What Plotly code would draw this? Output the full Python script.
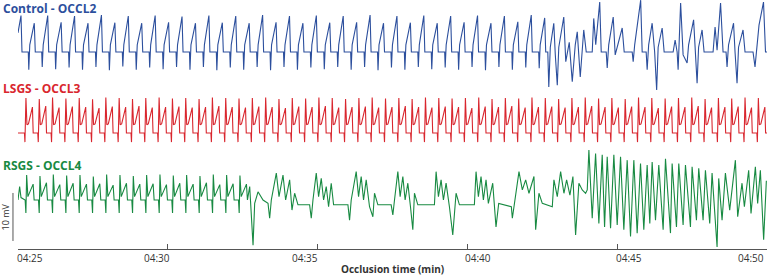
import plotly.graph_objects as go

# ---------------- data (time = seconds after 04:25:00, values in mV) ----------------
tick_vals = [0, 300, 600, 900, 1200, 1500]
tick_text = ["04:25", "04:30", "04:35", "04:40", "04:45", "04:50"]
trace_names = ["Control - OCCL2", "LSGS - OCCL3", "RSGS - OCCL4"]
x_title = "Occlusion time (min)"
scale_label = "10 mV"
scale_mv = 10

# Control - OCCL2 : regular beats (onset, trough, peak)
ctrl_lead_t = [0, 6, 8]
ctrl_lead_v = [4.0, 7.6, 0]
ctrl_onset = [20.6, 47.5, 74.4, 101.3, 128.2, 155.1, 182.0, 208.9, 235.8, 262.7,
              289.6, 316.5, 343.4, 370.3, 397.2, 424.1, 451.0, 477.9, 504.8, 531.7,
              558.6, 585.5, 612.4, 639.3, 666.2, 693.1, 720.0, 746.9, 773.8, 800.7,
              827.6, 854.5, 881.4, 908.3, 935.2, 962.1, 989.0, 1015.9, 1042.8]
ctrl_trough = [-3.7, -3.1, -3.6, -3.2, -3.7, -3.1, -3.8, -3.0, -3.7, -3.2,
               -3.6, -3.1, -3.7, -3.1, -3.8, -3.2, -3.7, -3.1, -3.8, -3.1,
               -3.7, -3.2, -3.6, -3.1, -3.7, -3.1, -3.8, -3.2, -3.7, -3.1,
               -3.6, -3.2, -3.7, -3.1, -3.8, -3.1, -3.7, -3.2, -3.4]
ctrl_peak = [6.0, 7.6, 6.2, 7.5, 6.0, 7.7, 6.1, 7.5, 6.0, 7.6,
             6.2, 7.4, 6.0, 7.6, 6.1, 7.5, 6.0, 7.7, 6.2, 7.5,
             6.0, 7.6, 6.1, 7.5, 6.2, 7.7, 6.0, 7.5, 6.1, 7.6,
             6.0, 7.5, 6.2, 7.6, 6.0, 7.5, 6.3, 7.7, 7.1]
# Control - OCCL2 : irregular part
ctrl_irr_t = [1061, 1063, 1066, 1073, 1076, 1080, 1083, 1093, 1097, 1104,
              1110, 1116, 1120, 1126, 1133, 1138, 1150, 1153, 1157, 1165,
              1168, 1178, 1180, 1183, 1192, 1196, 1210, 1214, 1230, 1232,
              1235, 1247, 1250, 1258, 1260, 1263, 1270, 1275, 1279, 1282,
              1290, 1294, 1312, 1316, 1320, 1322, 1327, 1332, 1340, 1343,
              1353, 1356, 1360, 1363, 1370, 1374, 1392, 1396, 1400, 1407,
              1412, 1418, 1420, 1423, 1433, 1436, 1440, 1443, 1452, 1456,
              1472, 1476, 1480, 1484, 1493, 1497, 1500]
ctrl_irr_v = [0, -7.3, 1.0, 6.0, -0.5, -6.9, 1.0, 7.3, -2.0, 2.0,
              -6.2, 1.5, 4.2, -5.2, 4.6, 0, 0, 7.0, 1.5, 10.4,
              0, 0, -3.3, 1.5, 7.3, -0.6, 5.0, 0, 0, -2.0,
              1.5, 10.8, 0, 0, -3.7, 1.5, 6.0, 0, -7.9, 1.0,
              5.0, 0, 0, 2.5, 0, -3.7, 10.2, -0.6, -2.3, 1.5,
              6.7, 0, -6.5, 1.0, 4.6, 0, 0, 5.2, 0.4, 10.2,
              0, 0, -3.1, 1.5, 6.0, 0, -6.5, 1.0, 4.6, 0,
              0, -3.1, 1.5, 5.6, 10.4, 0, 0]

# LSGS - OCCL3 : beats (time of main spike, main spike, second peak)
lsgs_time = [15.9, 42.6, 69.2, 95.9, 122.6, 149.3, 175.9, 202.6, 229.3, 255.9,
             282.6, 309.3, 335.9, 362.6, 389.3, 416.0, 442.6, 469.3, 496.0, 522.6,
             549.3, 576.0, 602.6, 629.3, 656.0, 682.7, 709.3, 736.0, 762.7, 789.3,
             816.0, 842.7, 869.3, 896.0, 922.7, 949.3, 976.0, 1002.7, 1029.3, 1056.0,
             1082.7, 1109.3, 1136.0, 1162.7, 1189.3, 1216.0, 1242.7, 1269.3, 1296.0, 1322.7,
             1349.3, 1376.0, 1402.7, 1429.3, 1456.0, 1482.7]
lsgs_spike = [7.3, 7.1, 7.4, 7.2, 7.3, 7.0, 7.4, 7.3, 7.1, 7.3,
              7.4, 7.2, 7.3, 7.1, 7.4, 7.3, 7.2, 7.3, 7.4, 7.1,
              7.3, 7.2, 7.4, 7.3, 7.1, 7.3, 7.4, 7.2, 7.3, 7.1,
              7.4, 7.3, 7.2, 7.3, 7.4, 7.1, 7.3, 7.2, 7.4, 7.3,
              7.1, 7.3, 7.4, 7.2, 7.3, 7.1, 7.4, 7.3, 7.2, 7.3,
              7.4, 7.1, 7.3, 7.2, 7.4, 7.3]
lsgs_second = [5.4, 5.6, 5.3, 5.5, 5.4, 5.2, 5.5, 5.4, 5.6, 5.3,
               5.4, 5.5, 5.3, 5.4, 5.6, 5.4, 5.3, 5.5, 5.4, 5.2,
               5.5, 5.4, 5.6, 5.3, 5.4, 5.5, 5.3, 5.4, 5.6, 5.4,
               5.3, 5.5, 5.4, 5.2, 5.5, 5.4, 5.6, 5.3, 5.4, 5.5,
               5.3, 5.4, 5.6, 5.4, 5.3, 5.5, 5.4, 5.2, 5.5, 5.4,
               5.6, 5.3, 5.4, 5.5, 5.3, 5.4]
lsgs_trough = -1.9

# RSGS - OCCL4 : regular beats at the start (time of main spike, spike, second peak)
rsgs_lead_t = [0, 3.3, 6.0, 12.0]
rsgs_lead_v = [0, 2.8, 0.5, 0]
rsgs_time = [17.3, 44.0, 70.7, 97.4, 124.1, 150.8, 177.5, 204.2, 230.9, 257.6,
             284.3, 311.0, 337.7, 364.4, 391.1, 417.8, 444.5]
rsgs_spike = [5.2, 5.0, 5.3, 5.1, 5.2, 4.9, 5.3, 5.2, 5.0, 5.2,
              5.3, 5.1, 5.2, 5.0, 5.3, 5.2, 5.1]
rsgs_second = [3.3, 3.6, 3.2, 3.5, 3.3, 3.4, 3.1, 3.5, 3.3, 3.4,
               3.2, 3.5, 3.3, 3.6, 3.2, 3.4, 3.3]
rsgs_trough = -2.7
# RSGS - OCCL4 : clustered part
rsgs_mid_t = [464, 470.7, 474, 480.7, 490.7, 500.7, 504, 507.3, 517.3, 522.7,
              530.7, 536, 544, 548.7, 554, 560.7, 584, 587.3, 590.7, 597.3,
              602, 607.3, 612, 617.3, 622, 627.3, 632, 660.7, 664, 667.3,
              677.3, 682, 687.3, 692, 697.3, 704, 710.7, 714, 720.7, 747.3,
              750.7, 754, 760.7, 765.3, 770.7, 775.3, 780.7, 786, 790.7, 794,
              800.7, 834, 837.3, 842, 847.3, 852, 857.3, 864, 870.7, 877.3,
              884, 914, 917.3, 922, 927.3, 932, 937.3, 942, 950.7, 957.3,
              962.7, 988, 990, 1003.3, 1010, 1016.7, 1023.3, 1033.3, 1036.7, 1043.3,
              1050, 1070, 1073.3, 1080, 1086.7, 1093.3, 1098.7, 1105.3, 1111.3, 1116.7,
              1123.3, 1130, 1136.7, 1140]
rsgs_mid_v = [2.8, -9.4, -0.7, 1.7, 0, -0.7, -3.8, 0, 5.6, 0.7,
              5.2, 0, 4.2, -2.1, 1.4, -1.0, -1.0, -3.8, 0, 5.6,
              0.7, 4.5, 0, 2.8, -1.4, 3.5, -1.0, -1.0, -4.2, 0,
              5.9, 0.7, 4.9, 0, 4.2, -1.4, -3.5, 1.4, -1.0, -1.0,
              -3.1, 0, 5.9, 0.7, 4.9, 0, 3.5, -1.4, -6.2, 1.4,
              -1.0, -1.0, 5.9, 0.7, 4.2, 0, 3.5, -1.4, -7.3, 1.4,
              -1.0, -1.0, 5.9, 0.7, 4.9, 0, 4.2, -0.7, 3.5, -5.6,
              -0.7, -1.4, -3.8, 5.9, 2.1, 4.2, 1.4, 4.9, -6.2, 1.4,
              -0.7, -1.4, 4.2, 0.7, 5.9, 1.4, 4.2, 1.0, 4.9, -7.3,
              3.5, 2.1, 1.4, 2.1]
# RSGS - OCCL4 : fast oscillation
rsgs_fast_t = [1143.3, 1150, 1156.7, 1163.3, 1170, 1174.7, 1180, 1186.7, 1193.3, 1200,
               1206.7, 1213.3, 1220, 1226.7, 1233.3, 1240, 1246.7, 1253.3, 1260, 1265.3,
               1270, 1276.7, 1283.3, 1292, 1296.7, 1306.7, 1310, 1318.7, 1323.3, 1332,
               1336.7, 1346.7, 1350, 1358.7, 1363.3, 1372, 1376.7, 1385.3, 1390, 1400,
               1403.3, 1410, 1416.7, 1425.3, 1436.7, 1441.3, 1450, 1454.7, 1463.3, 1468,
               1476.7, 1481.3, 1486.7, 1493.3, 1498.7]
rsgs_fast_v = [10.4, -3.8, 9.7, -4.9, 9.4, -5.6, 9.0, -5.9, 9.4, -5.2,
               9.0, -6.2, 8.3, -7.6, 8.3, -6.9, 7.6, -6.2, 7.3, -4.9,
               7.9, -4.2, 7.3, -6.2, 8.6, -6.9, 7.6, -5.6, 7.6, -5.2,
               7.3, -5.6, 6.9, -4.2, 6.6, -4.2, 6.2, -4.9, 5.6, -9.8,
               4.5, -4.2, 5.6, -2.1, 8.3, -3.5, 3.5, -1.4, 6.2, -2.8,
               6.9, -0.7, 6.2, -8.3, 4.0]

# ---------------- waveform assembly ----------------
CTRL_SHAPE_DT = [0, 1, 3, 12, 14]
CTRL_RETURN = 1.5
LSGS_SHAPE_DT = [-3, -2, 0, 2, 5, 13, 14.5]
RSGS_SHAPE_DT = [-3, -1.5, 0, 2.5, 13, 15]

ctrl_t, ctrl_v = list(ctrl_lead_t), list(ctrl_lead_v)
for o, tr, pk in zip(ctrl_onset, ctrl_trough, ctrl_peak):
    for dt, val in zip(CTRL_SHAPE_DT, [0, tr, CTRL_RETURN, pk, 0]):
        ctrl_t.append(o + dt)
        ctrl_v.append(val)
ctrl_t += ctrl_irr_t
ctrl_v += ctrl_irr_v

lsgs_t, lsgs_v = [0], [0]
for T, sp, se in zip(lsgs_time, lsgs_spike, lsgs_second):
    for dt, val in zip(LSGS_SHAPE_DT, [0, lsgs_trough, sp, 1.7, 1.9, se, 0]):
        lsgs_t.append(T + dt)
        lsgs_v.append(val)
lsgs_t.append(1500)
lsgs_v.append(0)

rsgs_t, rsgs_v = list(rsgs_lead_t), list(rsgs_lead_v)
for T, sp, se in zip(rsgs_time, rsgs_spike, rsgs_second):
    for dt, val in zip(RSGS_SHAPE_DT, [0, rsgs_trough, sp, 0.7, se, 0]):
        rsgs_t.append(T + dt)
        rsgs_v.append(val)
rsgs_t += rsgs_mid_t + rsgs_fast_t
rsgs_v += rsgs_mid_v + rsgs_fast_v

# ---------------- figure ----------------
colors = ["#2c4f9d", "#d9262e", "#188a42"]
offsets = [41.04, 24.17, 10.21]
Y_TOP = 51.875
FONT = "Open Sans"

fig = go.Figure()
for (tt, vv), col, off in zip([(ctrl_t, ctrl_v), (lsgs_t, lsgs_v), (rsgs_t, rsgs_v)], colors, offsets):
    fig.add_trace(go.Scatter(x=tt, y=[v + off for v in vv], mode="lines",
                             line=dict(color=col, width=1.1), hoverinfo="skip",
                             showlegend=False))

title_y = [50.2, 33.5, 17.3]
for name, col, yy in zip(trace_names, colors, title_y):
    fig.add_annotation(text="<b>%s</b>" % name, x=-0.0227, xref="paper", y=yy, yref="y",
                       xanchor="left", yanchor="middle", showarrow=False,
                       font=dict(family=FONT, size=12, color=col))

# scale bar
fig.add_shape(type="line", xref="paper", yref="y", x0=-0.0067, x1=-0.0067,
              y0=1.67, y1=1.67 + scale_mv, line=dict(color="#555555", width=1))
fig.add_annotation(text=scale_label, x=-0.0167, xref="paper", y=1.67 + scale_mv / 2, yref="y",
                   textangle=-90, showarrow=False, xanchor="center", yanchor="middle",
                   font=dict(family=FONT, size=9, color="#333333"))

fig.add_annotation(text="<b>%s</b>" % x_title, x=750, xref="x", y=-0.08, yref="paper",
                   xanchor="center", yanchor="middle", showarrow=False,
                   font=dict(family=FONT, size=10, color="#333333"))

# tick labels, placed beside their ticks as in the reference
label_anchor = ["left", "right", "right", "left", "left", "right"]
label_shift = [-3, 4, 2, -4, -3, -1]
for tv, tx, anc, sh in zip(tick_vals, tick_text, label_anchor, label_shift):
    fig.add_annotation(text=tx, x=tv, xref="x", y=-0.038, yref="paper", showarrow=False,
                       xanchor=anc, yanchor="middle", xshift=sh,
                       font=dict(family=FONT, size=10, color="#333333"))

fig.update_layout(
    width=768, height=277,
    margin=dict(l=18, r=1, t=0, b=28, autoexpand=False),
    paper_bgcolor="white", plot_bgcolor="white",
    font=dict(family=FONT, size=10, color="#333333"),
    xaxis=dict(range=[0, 1500], tickvals=tick_vals, showticklabels=False, automargin=False,
               showgrid=False, zeroline=False, showline=True, linecolor="#555555",
               linewidth=1, ticks="inside", ticklen=5, tickcolor="#555555"),
    yaxis=dict(range=[0, Y_TOP], visible=False, showgrid=False, zeroline=False,
               automargin=False),
)

fig.write_html("out.html", config={"displayModeBar": False},
               post_script="document.body.style.margin='0';document.body.style.overflow='hidden';")
